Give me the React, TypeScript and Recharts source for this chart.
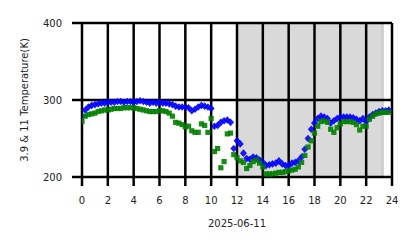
import {
  ScatterChart,
  Scatter,
  XAxis,
  YAxis,
  ReferenceArea,
  ReferenceLine,
} from "recharts";

const hourTicks = [0, 2, 4, 6, 8, 10, 12, 14, 16, 18, 20, 22, 24];
const tempTicks = [200, 300, 400];

// sample times (hours of day, every 15 min)
const hours = [
  0, 0.25, 0.5, 0.75, 1, 1.25, 1.5, 1.75, 2, 2.25, 2.5, 2.75,
  3, 3.25, 3.5, 3.75, 4, 4.25, 4.5, 4.75, 5, 5.25, 5.5, 5.75,
  6, 6.25, 6.5, 6.75, 7, 7.25, 7.5, 7.75, 8, 8.25, 8.5, 8.75,
  9, 9.25, 9.5, 9.75, 10, 10.25, 10.5, 10.75, 11, 11.25, 11.5, 11.75,
  12, 12.25, 12.5, 12.75, 13, 13.25, 13.5, 13.75, 14, 14.25, 14.5, 14.75,
  15, 15.25, 15.5, 15.75, 16, 16.25, 16.5, 16.75, 17, 17.25, 17.5, 17.75,
  18, 18.25, 18.5, 18.75, 19, 19.25, 19.5, 19.75, 20, 20.25, 20.5, 20.75,
  21, 21.25, 21.5, 21.75, 22, 22.25, 22.5, 22.75, 23, 23.25, 23.5, 23.75,
];

// blue diamonds
const blueTemps = [
  279, 287, 291, 293, 294, 295, 296, 296, 297, 297, 297, 298,
  298, 297, 298, 298, 297, 298, 299, 298, 297, 296, 297, 296,
  297, 296, 296, 295, 294, 292, 291, 291, 291, 290, 286, 288,
  291, 293, 292, 291, 289, 266, 267, 271, 273, 274, 271, 237,
  247, 243, 231, 224, 223, 226, 225, 222, 219, 215, 216, 217,
  218, 221, 217, 215, 215, 218, 219, 221, 226, 236, 250, 262,
  270, 276, 279, 278, 276, 270, 273, 276, 278, 278, 278, 278,
  277, 275, 273, 276, 272, 278, 281, 283, 285, 286, 286, 287,
];

// green squares
const greenTemps = [
  272, 279, 281, 282, 283, 285, 286, 287, 287, 288, 289, 289,
  289, 290, 290, 290, 290, 289, 288, 287, 286, 285, 285, 285,
  286, 286, 285, 283, 279, 271, 270, 268, 265, 266, 260, 258,
  258, 269, 267, 258, 276, 233, 237, 212, 220, 256, 257, 229,
  225, 221, 219, 211, 215, 220, 222, 218, 213, 204, 204, 204,
  205, 206, 206, 207, 208, 209, 210, 213, 219, 228, 239, 247,
  257, 266, 272, 273, 271, 262, 258, 264, 269, 272, 272, 272,
  271, 268, 261, 266, 266, 275, 279, 282, 283, 284, 284, 284,
];

const blueRows = hours.map((h, i) => ({ hour: h, temp: blueTemps[i] }));
const greenRows = hours.map((h, i) => ({ hour: h, temp: greenTemps[i] }));

const font = { fontSize: 10, fill: "#222", fontFamily: "DejaVu Sans" };

const Diamond = (p: any) => (
  <polygon
    points={`${p.cx},${p.cy - 3.8} ${p.cx + 3.5},${p.cy} ${p.cx},${p.cy + 3.8} ${p.cx - 3.5},${p.cy}`}
    fill="#0000ff"
    fillOpacity={0.9}
  />
);

const Square = (p: any) => (
  <rect x={p.cx - 2.6} y={p.cy - 2.6} width={5.2} height={5.2} fill="#008000" fillOpacity={0.9} />
);

export default function App() {
  return (
    <div style={{ position: "absolute", left: 0, top: 0, background: "#fff" }}>
      <ScatterChart width={418} height={248} margin={{ top: 23, right: 26, bottom: 0, left: 0 }}>
        <XAxis
          type="number"
          dataKey="hour"
          domain={[0, 24]}
          ticks={hourTicks}
          interval={0}
          allowDataOverflow
          height={71}
          tickSize={9}
          tickMargin={11}
          axisLine={false}
          tickLine={{ stroke: "#000", strokeWidth: 2.5 }}
          tick={font}
          label={(props: any) => {
            const vb = props.viewBox;
            return (
              <text
                x={vb.x + vb.width / 2}
                y={vb.y + 46}
                textAnchor="middle"
                dominantBaseline="central"
                {...font}
              >
                2025-06-11
              </text>
            );
          }}
        />
        <YAxis
          type="number"
          dataKey="temp"
          domain={[200, 400]}
          ticks={tempTicks}
          interval={0}
          allowDataOverflow
          width={82}
          tickSize={10}
          tickMargin={10}
          axisLine={false}
          tickLine={{ stroke: "#000", strokeWidth: 2.5 }}
          tick={font}
          label={(props: any) => {
            const vb = props.viewBox;
            const cx = vb.x + 24;
            const cy = vb.y + vb.height / 2;
            return (
              <text
                x={cx}
                y={cy}
                transform={`rotate(-90, ${cx}, ${cy})`}
                textAnchor="middle"
                dominantBaseline="central"
                {...font}
              >
                3.9 &amp; 11 Temperature(K)
              </text>
            );
          }}
        />
        <ReferenceArea x1={12} x2={23.37} y1={200} y2={400} fill="#d9d9d9" fillOpacity={1} stroke="none" />
        <ReferenceArea x1={23.17} x2={23.37} y1={200} y2={400} fill="#000" fillOpacity={0.05} stroke="none" />
        <Scatter data={blueRows} shape={Diamond} isAnimationActive={false} />
        <Scatter data={greenRows} shape={Square} isAnimationActive={false} />
        {hourTicks.map((h) => (
          <ReferenceLine key={`x${h}`} x={h} stroke="#000" strokeWidth={2.5} />
        ))}
        {tempTicks.map((t) => (
          <ReferenceLine key={`y${t}`} y={t} stroke="#000" strokeWidth={2.5} />
        ))}
      </ScatterChart>
    </div>
  );
}
